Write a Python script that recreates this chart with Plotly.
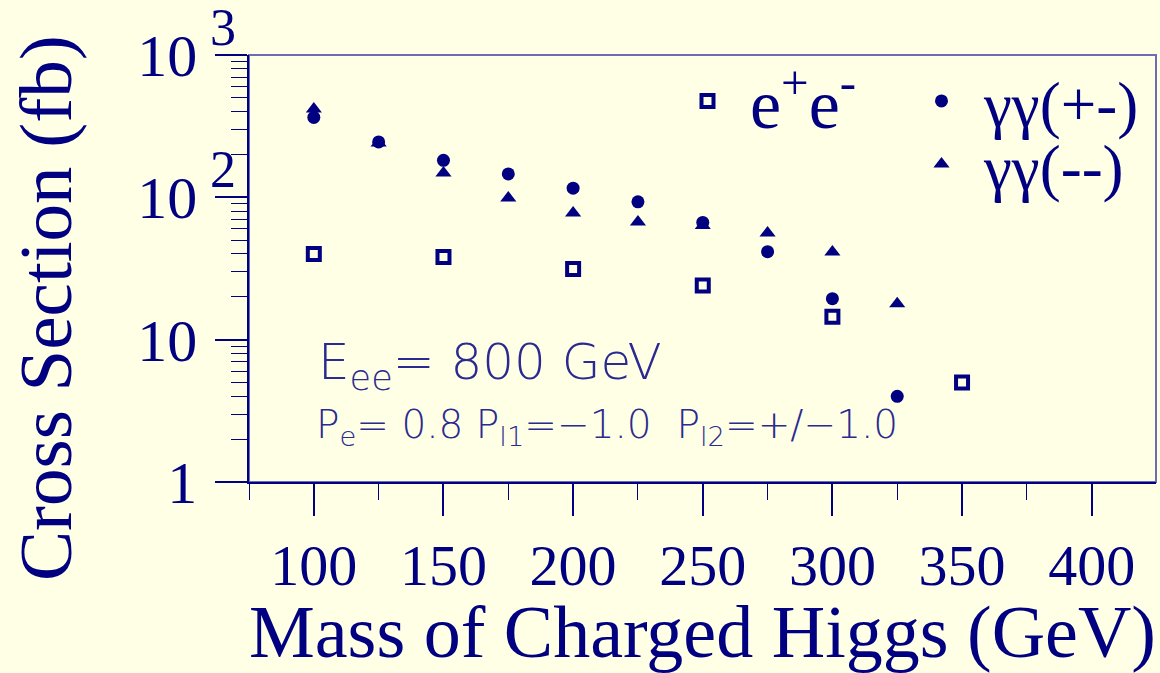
import math
import plotly.graph_objects as go

# Charged Higgs pair production cross sections at a 800 GeV collider
ee_mass = [100, 150, 200, 250, 300, 350]
ee_xsec = [40.0, 38.1, 31.4, 24.0, 14.5, 5.0]

gg_pm_mass = [100, 125, 150, 175, 200, 225, 250, 275, 300, 325]
gg_pm_xsec = [364, 245, 182, 146, 116, 93, 66.6, 41.5, 19.4, 4.0]

gg_mm_mass = [100, 125, 150, 175, 200, 225, 250, 275, 300, 325]
gg_mm_xsec = [418, 241, 148, 99, 77.7, 67.2, 63.5, 56.2, 41.3, 17.9]

x_major = [100, 150, 200, 250, 300, 350, 400]
x_labels = ["100", "150", "200", "250", "300", "350", "400"]
y_major = [1, 10, 100, 1000]
y_labels = ["1", "10", "10", "10"]
y_exponents = ["", "", "2", "3"]

NAVY = "#000080"
BG = "#ffffe6"
SERIF = "Liberation Serif"
THIN = "DejaVu Sans ExtraLight, DejaVu Sans Light, Roboto, sans-serif"

x_minor = list(range(75, 425, 50))
y_minor = [d * 10 ** e for e in range(3) for d in range(2, 10)]

W, H = 1160, 673
L, R, T, B = 249, 4, 55, 191
pw, ph = W - L - R, H - T - B


def px(xp):
    return (xp - L) / pw


def py(yp):
    return (H - B - yp) / ph


fig = go.Figure()

fig.add_trace(go.Scatter(
    x=ee_mass, y=ee_xsec, mode="markers", name="e<sup>+</sup>e<sup>-</sup>",
    marker=dict(symbol="square-open", size=12, color=NAVY, line=dict(width=4, color=NAVY)),
    legend="legend",
))
fig.add_trace(go.Scatter(
    x=gg_pm_mass, y=gg_pm_xsec, mode="markers", name="\u03b3\u03b3(+-)",
    marker=dict(symbol="circle", size=13, color=NAVY),
    legend="legend2",
))
fig.add_trace(go.Scatter(
    x=gg_mm_mass, y=gg_mm_xsec, mode="markers", name="\u03b3\u03b3(--)",
    marker=dict(symbol="triangle-up", size=14, color=NAVY),
    legend="legend3",
))

legend_common = dict(
    bgcolor="rgba(0,0,0,0)", borderwidth=0,
    itemwidth=75, xanchor="left", yanchor="middle",
)

# exponents of the decade labels on the log axis
exp_annotations = [
    dict(text=e, xref="paper", yref="y", x=px(223), y=math.log10(v), yshift=28,
         xanchor="center", yanchor="middle", showarrow=False,
         font=dict(family=SERIF, size=52, color=NAVY))
    for v, e in zip(y_major, y_exponents) if e
]

fig.update_layout(
    width=W, height=H,
    margin=dict(l=L, r=R, t=T, b=B, pad=0),
    paper_bgcolor=BG, plot_bgcolor=BG,
    font=dict(family=SERIF, color=NAVY),
    showlegend=True,
    legend=dict(x=px(665), y=py(101), font=dict(family=SERIF, size=70, color=NAVY),
                **legend_common),
    legend2=dict(x=px(899), y=py(101), font=dict(family=SERIF, size=63, color=NAVY),
                 **legend_common),
    legend3=dict(x=px(899), y=py(164), font=dict(family=SERIF, size=63, color=NAVY),
                 **legend_common),
    xaxis=dict(
        range=[75, 424.8], showline=True, linecolor=NAVY, linewidth=1.5,
        showgrid=False, zeroline=False,
        ticks="outside", ticklen=32, tickwidth=1.5, tickcolor=NAVY,
        tickmode="array", tickvals=x_major, ticktext=x_labels,
        tickfont=dict(family=SERIF, size=58, color=NAVY),
        minor=dict(ticks="outside", ticklen=16, tickwidth=1.2, tickcolor=NAVY,
                   tickmode="array", tickvals=x_minor, showgrid=False),
        title=dict(text="Mass of Charged Higgs (GeV)",
                   font=dict(family=SERIF, size=74, color=NAVY), standoff=10),
    ),
    yaxis=dict(
        type="log", range=[0, 3], showline=True, linecolor=NAVY, linewidth=1.5,
        showgrid=False, zeroline=False,
        ticks="outside", ticklen=32, tickwidth=1.5, tickcolor=NAVY,
        tickmode="array", tickvals=y_major, ticktext=y_labels,
        ticklabelstandoff=6, ticklabeloverflow="allow",
        tickfont=dict(family=SERIF, size=60, color=NAVY),
        minor=dict(ticks="outside", ticklen=16, tickwidth=1.2, tickcolor=NAVY,
                   tickmode="array", tickvals=y_minor, showgrid=False),
    ),
    shapes=[dict(type="rect", xref="paper", yref="paper", x0=0, x1=1, y0=0, y1=1,
                 line=dict(color="#6c6cb4", width=2), layer="below")],
    annotations=[
        dict(text="Cross Section (fb)", xref="paper", yref="paper",
             x=px(45), y=py(308), textangle=-90, xanchor="center", yanchor="middle",
             showarrow=False, font=dict(family=SERIF, size=75, color=NAVY)),
        dict(text="E<sub>ee</sub>= 800 GeV", xref="paper", yref="paper",
             x=px(316), y=py(366), xanchor="left", yanchor="middle", showarrow=False,
             font=dict(family=THIN, size=50, color="#2a2a90")),
        dict(text="P<sub>e</sub>= 0.8 P<sub>l1</sub>=\u22121.0\u00a0\u00a0P<sub>l2</sub>=+/\u22121.0",
             xref="paper", yref="paper",
             x=px(314), y=py(427), xanchor="left", yanchor="middle", showarrow=False,
             font=dict(family=THIN, size=39, color="#2a2a90")),
    ] + exp_annotations,
)

fig.write_html("out.html")
